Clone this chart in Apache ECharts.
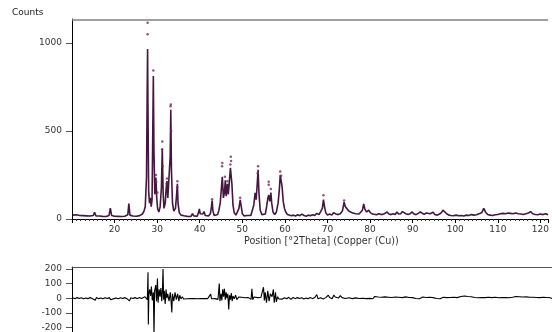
<!DOCTYPE html>
<html>
<head>
<meta charset="utf-8">
<script src="https://cdn.jsdelivr.net/npm/echarts@6/dist/echarts.min.js"></script>
<style>
  html, body { margin: 0; padding: 0; background: #fff; }
  #chart { width: 552px; height: 332px; }
</style>
</head>
<body>
<div id="chart"></div>
<script>
// calculated profile, [2theta, counts]
const calcLow = [
  [10.2, 22], [10.6, 18], [11, 24], [11.4, 17], [11.8, 20], [12.2, 15], [12.6, 19], [13, 14],
  [13.4, 18], [13.8, 13], [14.2, 17], [14.6, 15], [15, 20], [15.3, 38], [15.6, 18], [16, 14],
  [16.4, 17], [16.8, 12], [17.2, 15], [17.6, 11], [18, 14], [18.4, 12], [18.7, 20], [19, 62],
  [19.3, 20], [19.6, 13], [20, 16], [20.4, 12], [20.8, 15], [21.2, 11], [21.6, 14], [22, 12],
  [22.4, 16], [22.8, 13], [23.1, 24], [23.35, 88], [23.6, 22], [23.9, 14], [24.3, 17], [24.7, 13],
  [25.1, 16], [25.5, 14], [25.9, 19], [26.3, 24], [26.6, 30], [26.9, 45]
];
const calcMain = [
  [27.2, 70], [27.5, 240], [27.65, 700], [27.75, 966], [27.85, 600], [28, 160], [28.2, 90],
  [28.4, 120], [28.6, 70], [28.8, 110], [28.95, 450], [29.1, 812], [29.25, 380], [29.45, 140],
  [29.7, 235], [29.9, 120], [30.1, 60], [30.4, 40], [30.7, 70], [31, 180], [31.2, 400],
  [31.4, 150], [31.6, 60], [31.9, 90], [32.1, 170], [32.3, 215], [32.5, 120], [32.8, 110],
  [33.05, 350], [33.2, 620], [33.35, 280], [33.6, 90], [33.9, 45], [34.3, 60], [34.6, 150],
  [34.75, 200], [34.9, 90], [35.2, 35], [35.6, 22], [36, 28], [36.3, 18], [36.7, 25], [37.1, 15]
];
const calcMid = [
  [37.5, 20], [37.9, 14], [38.3, 30], [38.6, 18], [39, 22], [39.4, 16], [39.7, 35], [39.9, 57],
  [40.1, 30], [40.4, 20], [40.7, 28], [41, 42], [41.3, 20], [41.7, 15], [42.1, 18], [42.5, 30],
  [42.75, 70], [42.9, 104], [43.1, 45], [43.4, 20], [43.8, 16], [44.2, 25], [44.5, 50], [44.8, 90],
  [45.1, 180], [45.3, 240], [45.55, 120], [45.8, 150], [46, 220], [46.2, 130], [46.5, 200],
  [46.7, 140], [46.95, 210], [47.2, 290], [47.35, 297], [47.55, 200], [47.8, 80], [48.1, 35],
  [48.5, 22], [48.9, 30], [49.2, 60], [49.5, 108], [49.75, 70], [50, 30], [50.4, 18], [50.8, 15],
  [51.2, 20], [51.6, 16], [52, 20], [52.4, 30], [52.7, 80], [53, 148], [53.25, 110], [53.5, 200],
  [53.7, 280], [53.9, 150], [54.2, 50], [54.6, 25], [55, 18], [55.4, 28], [55.7, 70], [56, 120],
  [56.2, 136], [56.45, 100], [56.7, 150], [56.9, 90], [57.2, 40], [57.6, 25], [58, 40], [58.4, 90],
  [58.7, 170], [58.9, 250], [59.1, 220], [59.35, 180], [59.6, 100], [59.9, 60], [60.2, 40],
  [60.6, 25], [61, 20], [61.5, 18]
];
const calcHigh = [
  [62, 22], [62.5, 17], [63, 24], [63.5, 19], [64, 28], [64.2, 33], [64.5, 20], [65, 16],
  [65.5, 22], [66, 18], [66.5, 24], [67, 20], [67.5, 32], [67.7, 40], [68, 25], [68.4, 30],
  [68.8, 60], [69.05, 110], [69.3, 70], [69.6, 35], [70, 22], [70.5, 28], [71, 22], [71.4, 35],
  [71.7, 42], [72, 28], [72.5, 25], [73, 30], [73.5, 45], [73.9, 95], [74.2, 70], [74.6, 60],
  [75, 45], [75.4, 50], [75.8, 35], [76.2, 40], [76.6, 30], [77, 36], [77.4, 28], [77.8, 35],
  [78.2, 50], [78.5, 85], [78.8, 55], [79.2, 40], [79.7, 50], [80.1, 35], [80.6, 28], [81, 30],
  [81.5, 24], [82, 30], [82.3, 36], [82.7, 25], [83.2, 28], [83.6, 35], [84, 40], [84.4, 28],
  [84.9, 25], [85.4, 30], [85.9, 26], [86.3, 40], [86.7, 28], [87.2, 30], [87.6, 42], [88, 48],
  [88.4, 30], [88.9, 26], [89.4, 30], [89.9, 40], [90.3, 28], [90.8, 25], [91.3, 32], [91.8, 40],
  [92.2, 30], [92.7, 26], [93.2, 34], [93.6, 28], [94.1, 30], [94.8, 38], [95.2, 26], [95.8, 22],
  [96.3, 28], [96.8, 38], [97.1, 50], [97.5, 40], [98, 30], [98.5, 22], [99, 20], [99.6, 18],
  [100.2, 22], [100.8, 18], [101.4, 20], [102, 17], [102.6, 22], [103.2, 20], [103.8, 25],
  [104.4, 22], [105, 24], [105.6, 30], [106.2, 35], [106.7, 60], [107.1, 40], [107.6, 26],
  [108.2, 22], [108.8, 20], [109.4, 24], [110, 26], [110.6, 30], [111.2, 32], [111.8, 30],
  [112.4, 34], [113, 32], [113.6, 30], [114.2, 34], [114.8, 30], [115.4, 28], [116, 26],
  [116.6, 30], [117.2, 34], [117.7, 42], [118.2, 30], [118.8, 26], [119.4, 24], [120, 28],
  [120.6, 25], [121.2, 30], [121.8, 24]
];
// observed points standing off the fit
const obsPeaks = [
  [27.75, 1115], [27.75, 1050], [29.1, 843], [29.7, 250], [29.8, 210], [30.05, 150], [31.2, 440],
  [31.15, 395], [31.3, 300], [32.3, 230], [32.2, 200], [33.2, 650], [33.15, 640], [33.3, 500],
  [34.75, 215], [34.7, 180], [42.9, 112], [45.3, 318], [45.25, 300], [45.9, 240], [46.5, 215],
  [47.3, 354], [47.35, 330], [47.2, 310], [49.5, 120], [53.7, 300], [53.6, 260], [56.2, 212],
  [56.2, 195], [56.7, 170], [58.9, 270], [59.1, 245], [69.05, 135], [73.9, 105]
];
// difference (obs - calc)
const diffLow = [
  [10.2, 2], [10.7, -3], [11.2, 4], [11.7, -2], [12.2, 3], [12.7, -4], [13.2, 2], [13.7, -3],
  [14.2, 4], [14.7, -2], [15.1, 3], [15.4, -14], [15.7, 4], [16.2, -3], [16.7, 2], [17.2, -4],
  [17.7, 3], [18.2, -2], [18.7, 4], [19, -10], [19.3, 3], [19.8, -3], [20.3, 2], [20.8, -4],
  [21.3, 3], [21.8, -2], [22.3, 4], [22.8, -3], [23.2, 6], [23.4, -18], [23.7, 3], [24.2, -2],
  [24.7, 4], [25.2, -3], [25.7, 5], [26.2, -2], [26.6, 6], [27, 10], [27.3, 20], [27.55, -10]
];
const diffMain = [
  [27.7, 177], [27.78, -180], [27.9, 30], [28.1, 60], [28.3, 15], [28.5, 80], [28.7, -15],
  [28.95, 40], [29.1, -260], [29.25, 50], [29.5, 90], [29.7, -20], [29.9, 134], [30.05, -30],
  [30.3, 60], [30.5, 10], [30.7, 70], [30.9, -20], [31.05, 40], [31.2, 200], [31.35, -10],
  [31.5, 50], [31.7, -40], [31.9, 60], [32.1, 0], [32.3, 30], [32.6, -20], [32.9, 40], [33.1, -30],
  [33.25, -97], [33.4, 30], [33.7, -20], [34, 40], [34.3, -10], [34.6, 30], [34.9, -20],
  [35.1, 20], [35.4, -5], [35.7, 10], [36, -5]
];
const diffMid = [
  [36.4, 3], [36.8, -4], [37.2, 2], [37.6, -3], [38, 4], [38.4, -2], [38.8, 3], [39.2, -4],
  [39.6, 2], [40, -3], [40.4, 4], [40.8, -2], [41.2, 3], [41.6, -3], [42, 8], [42.3, 28],
  [42.5, -4], [42.9, 5], [43.3, -3], [43.7, 4], [44, -8], [44.3, 100], [44.45, -20], [44.7, 30],
  [44.9, -15], [45.1, 60], [45.3, 10], [45.5, 65], [45.7, -10], [45.9, 40], [46.1, 0], [46.3, 30],
  [46.5, -77], [46.7, 20], [46.9, -10], [47.1, 35], [47.3, -20], [47.5, 15], [47.8, -5],
  [48.1, 20], [48.4, -10], [48.8, 8], [49.1, -3], [49.5, 6], [49.9, -4], [50.3, 3], [50.7, -2],
  [51.1, 4], [51.5, -3], [51.7, -8], [51.9, 65], [52.1, -10], [52.4, 8], [52.8, -3], [53.2, 4],
  [53.6, -2], [54, 5], [54.3, -4], [54.6, 75], [54.8, -15], [55, 40], [55.3, -30], [55.6, 50],
  [55.9, -20], [56.2, 30], [56.6, 10], [56.9, 60], [57.1, -30], [57.4, 40], [57.6, -25],
  [57.9, 10], [58.2, -5]
];
const diffHigh = [
  [58.6, 4], [59, -6], [59.5, 3], [60, -4], [60.5, 6], [61, -8], [61.5, 5], [62, -3], [62.5, 4],
  [63, -2], [63.5, 3], [64, -5], [64.5, 2], [65, -4], [65.5, 5], [66, -3], [66.6, 6], [67, 25],
  [67.3, -4], [67.9, 3], [68.5, -5], [69.1, 4], [69.4, -3], [69.7, 20], [70, 5], [70.3, 18],
  [70.6, -4], [71, 22], [71.3, 8], [71.7, 15], [72.1, 2], [72.5, 18], [72.9, 4], [73.3, 12],
  [73.7, -2], [74.1, 10], [74.5, 3], [74.9, 12], [75.3, -3], [75.7, 9], [76.1, 2], [76.5, 14],
  [76.9, -2], [77.3, 8], [77.7, 0], [78.1, 10], [78.5, -3], [78.9, 7], [79.3, -1], [79.7, 9],
  [80.1, -4], [80.5, 12], [80.9, 2], [81.3, 8], [81.7, -3], [82.1, 6], [82.5, -2], [82.9, 9],
  [83.3, 0], [83.7, 7], [84.1, -3], [84.5, 5], [84.9, -4], [85.3, 8], [85.7, 0], [86.1, 6],
  [86.5, -5], [86.9, 4], [87.3, -2], [87.7, 9], [88.1, -3], [88.5, 5], [88.9, -6], [89.3, 4],
  [89.7, 10], [90.1, -2], [90.5, 6], [90.9, -4], [91.3, 3], [91.7, 8], [92.1, -3], [92.5, 5],
  [92.9, -2], [93.3, 6], [93.7, -5], [94.1, 4], [94.5, 9], [94.9, -2], [95.3, 5], [95.7, -4],
  [96.1, 3], [96.5, 7], [96.9, -3], [97.3, 4], [97.7, -2], [98.1, 5], [98.5, -4], [98.9, 6],
  [99.3, -1], [99.7, 4], [100.1, -3], [100.6, 12], [101, 6], [101.4, 15], [101.8, 4], [102.2, 12],
  [102.6, 2], [103, 10], [103.4, -3], [103.8, 5], [104.2, -4], [104.6, 3], [105, -2], [105.4, 5],
  [105.8, -3], [106.2, 4], [106.6, -2], [107, 6], [107.4, -3], [107.8, 4], [108.2, -1],
  [108.6, 7], [109, -4], [109.4, 3], [109.8, -2], [110.2, 5], [110.6, -3], [111, 4], [111.4, -5],
  [111.8, 3], [112.2, -2], [112.6, 6], [113, -3], [113.4, 12], [113.8, 2], [114.2, 10],
  [114.6, -2], [115, 8], [115.4, 0], [115.8, 9], [116.2, -3], [116.6, 6], [117, -2], [117.4, 7],
  [117.8, -4], [118.2, 5], [118.6, -1], [119, 4], [119.4, -3], [119.8, 6], [120.2, -2],
  [120.6, 5], [121, -4], [121.4, 3], [121.8, -2]
];
const countTicks = [0, 500, 1000];
const diffTicks = [-200, -100, 0, 100, 200];
const countMax = 1136;
const frameTop = 1130;

const font = 'DejaVu Sans';
const labelStyle = { fontFamily: font, fontSize: 9, color: '#333' };

const chart = echarts.init(document.getElementById('chart'));
chart.setOption({
  animation: false,
  title: [
    { text: 'Counts', left: 12, top: 8, padding: 0,
      textStyle: { fontFamily: font, fontSize: 9, fontWeight: 'normal', color: '#222' } },
    { text: 'Position [°2Theta] (Copper (Cu))', left: 244, top: 236, padding: 0,
      textStyle: { fontFamily: font, fontSize: 9.6, fontWeight: 'normal', color: '#333' } }
  ],
  grid: [
    { left: 72, top: 19, width: 480, height: 200 },
    { left: 72, top: 267, width: 480, height: 65 }
  ],
  xAxis: [
    {
      gridIndex: 0, type: 'value', min: 10, max: 121.8, interval: 10,
      axisLine: { onZero: false, lineStyle: { color: '#000', width: 1 } },
      axisTick: { length: 4, lineStyle: { color: '#000' } },
      minorTick: { show: true, splitNumber: 10, length: 2, lineStyle: { color: '#333' } },
      splitLine: { show: false },
      axisLabel: Object.assign({ margin: 6, showMaxLabel: false,
        formatter: v => (v === 10 ? '' : String(v)) }, labelStyle)
    },
    {
      gridIndex: 1, type: 'value', min: 10, max: 121.8,
      axisLine: { show: false, onZero: false },
      axisTick: { show: false }, axisLabel: { show: false }, splitLine: { show: false }
    },
    {
      gridIndex: 1, type: 'value', position: 'top', min: 10, max: 121.8,
      axisLine: { show: true, onZero: false, lineStyle: { color: '#555' } },
      axisTick: { show: false }, axisLabel: { show: false }, splitLine: { show: false }
    }
  ],
  yAxis: [
    {
      gridIndex: 0, type: 'value', min: 0, max: countMax, interval: 500,
      axisLine: { show: true, onZero: false, lineStyle: { color: '#000' } },
      axisTick: { show: true, length: 6, customValues: countTicks, lineStyle: { color: '#555' } },
      splitLine: { show: false },
      axisLabel: Object.assign({ margin: 10, customValues: countTicks, formatter: v => String(v) }, labelStyle)
    },
    {
      gridIndex: 1, type: 'value', min: -228, max: 213,
      axisLine: { show: true, onZero: false, lineStyle: { color: '#000' } },
      axisTick: { show: true, length: 6, customValues: diffTicks, lineStyle: { color: '#555' } },
      splitLine: { show: false },
      axisLabel: Object.assign({ margin: 10, customValues: diffTicks, formatter: v => String(v) }, labelStyle)
    }
  ],
  series: [
    {
      name: 'calc', type: 'line', xAxisIndex: 0, yAxisIndex: 0,
      data: calcLow.concat(calcMain, calcMid, calcHigh),
      showSymbol: false, z: 3,
      lineStyle: { color: '#45173f', width: 1.6 },
      // grey frame line along the top of the plot
      markLine: {
        silent: true, symbol: 'none', label: { show: false },
        lineStyle: { color: '#808080', width: 1.5, type: 'solid' },
        data: [{ yAxis: frameTop }]
      }
    },
    {
      name: 'obs', type: 'scatter', xAxisIndex: 0, yAxisIndex: 0,
      data: obsPeaks, symbolSize: 2.5, z: 4,
      itemStyle: { color: '#6e2a62' }
    },
    {
      name: 'diff', type: 'line', xAxisIndex: 1, yAxisIndex: 1,
      data: diffLow.concat(diffMain, diffMid, diffHigh),
      showSymbol: false,
      lineStyle: { color: '#000', width: 1.1 }
    }
  ]
});
</script>
</body>
</html>
